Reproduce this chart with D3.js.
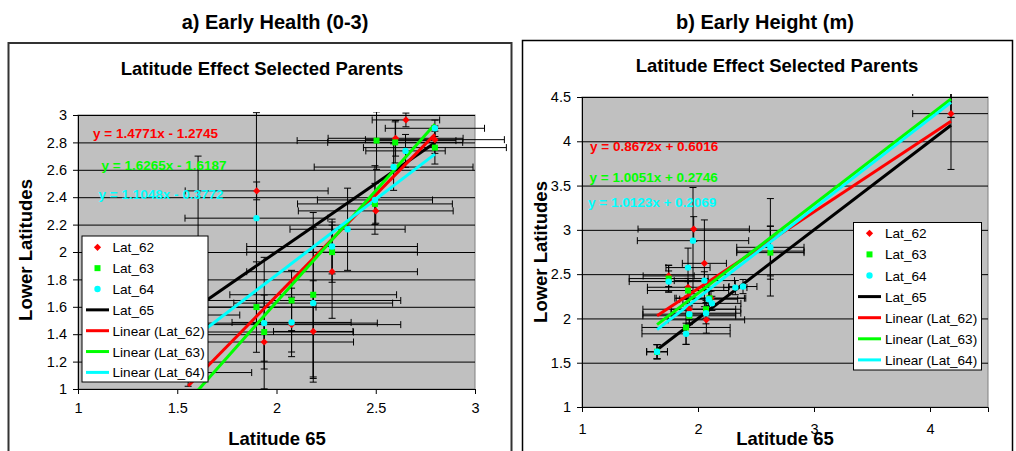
<!DOCTYPE html>
<html>
<head>
<meta charset="utf-8">
<script src="https://cdnjs.cloudflare.com/ajax/libs/d3/7.8.5/d3.min.js"></script>
<style>
body { margin: 0; background: #fff; }
svg { font-family: "Liberation Sans", Arial, sans-serif; }
</style>
</head>
<body>
<script>
// rows are [Lat_65 value, lower latitude value, x error, y error]

// a) Early Health (0-3)
var healthLat62 = [
    [1.555, 1.120, 0.32, 0.10],
    [1.900, 2.446, 0.36, 0.065],
    [1.938, 1.343, 0.45, 0.14],
    [2.076, 1.470, 0.55, 0.20],
    [2.185, 1.420, 0.20, 0.37],
    [2.280, 1.856, 0.43, 0.34],
    [2.500, 2.300, 0.39, 0.09],
    [2.600, 2.830, 0.34, 0.13],
    [2.652, 2.964, 0.17, 0.05],
    [2.798, 2.820, 0.35, 0.10]
];
var healthLat63 = [
    [1.555, 1.540, 0.26, 0.12],
    [1.899, 1.598, 0.30, 0.33],
    [1.938, 1.416, 0.45, 0.27],
    [2.076, 1.646, 0.55, 0.22],
    [2.185, 1.688, 0.42, 0.60],
    [2.280, 1.999, 0.43, 0.22],
    [2.496, 2.351, 0.39, 0.15],
    [2.504, 2.813, 0.40, 0.21],
    [2.598, 2.800, 0.34, 0.15],
    [2.798, 2.762, 0.36, 0.12]
];
var healthLat64 = [
    [1.605, 1.900, 0.04, 0.80],
    [1.899, 2.247, 0.36, 0.77],
    [1.938, 1.481, 0.57, 0.48],
    [2.076, 1.486, 0.30, 0.25],
    [2.185, 1.627, 0.40, 0.55],
    [2.280, 2.040, 0.43, 0.20],
    [2.358, 2.166, 0.29, 0.30],
    [2.496, 2.380, 0.29, 0.25],
    [2.590, 2.620, 0.40, 0.17],
    [2.650, 2.738, 0.20, 0.12],
    [2.798, 2.903, 0.25, 0.06]
];
var healthLat65 = [1.555, 1.605, 1.899, 1.938, 2.076, 2.185, 2.280, 2.358, 2.500, 2.600, 2.652, 2.798];
var healthTrend = [[1.4771, -1.2745], [1.6265, -1.6187], [1.1048, -0.3772]];
var healthXTicks = [1, 1.5, 2, 2.5, 3];
var healthYTicks = [1, 1.2, 1.4, 1.6, 1.8, 2, 2.2, 2.4, 2.6, 2.8, 3];

// b) Early Height (m)
var heightLat62 = [
    [1.647, 1.624, 0.09, 0.08],
    [1.747, 2.480, 0.22, 0.12],
    [1.914, 2.352, 0.35, 0.10],
    [1.925, 2.104, 0.40, 0.12],
    [1.963, 3.009, 0.48, 0.14],
    [2.055, 2.622, 0.19, 0.49],
    [2.072, 1.984, 0.33, 0.15],
    [2.112, 2.228, 0.30, 0.08],
    [2.624, 2.760, 0.29, 0.28],
    [4.181, 4.312, 0.33, 0.63]
];
var heightLat63 = [
    [1.647, 1.624, 0.09, 0.08],
    [1.747, 2.450, 0.34, 0.15],
    [1.897, 1.898, 0.38, 0.19],
    [1.914, 2.315, 0.35, 0.10],
    [1.925, 2.030, 0.40, 0.10],
    [2.069, 2.104, 0.30, 0.10],
    [2.100, 2.228, 0.30, 0.08],
    [2.624, 2.743, 0.29, 0.30],
    [4.181, 4.600, 0.33, 0.33]
];
var heightLat64 = [
    [1.647, 1.624, 0.09, 0.08],
    [1.747, 2.416, 0.34, 0.12],
    [1.897, 1.826, 0.38, 0.12],
    [1.914, 2.574, 0.19, 0.22],
    [1.925, 2.048, 0.40, 0.10],
    [1.957, 2.878, 0.48, 0.60],
    [2.055, 2.427, 0.26, 0.10],
    [2.069, 2.059, 0.30, 0.12],
    [2.092, 2.217, 0.25, 0.10],
    [2.120, 2.170, 0.25, 0.08],
    [2.322, 2.348, 0.10, 0.08],
    [2.388, 2.360, 0.12, 0.08],
    [2.624, 2.803, 0.29, 0.55],
    [4.181, 4.550, 0.33, 0.28]
];
var heightLat65 = [1.647, 1.747, 1.897, 1.914, 1.925, 1.957, 1.963, 2.055, 2.069, 2.092, 2.112, 2.120, 2.322, 2.388, 2.624, 4.181];
var heightTrend = [[0.8672, 0.6016], [1.0051, 0.2746], [1.0123, 0.2069]];
var heightXTicks = [1, 2, 3, 4];
var heightYTicks = [1, 1.5, 2, 2.5, 3, 3.5, 4, 4.5];

var seriesNames = ["Lat_62", "Lat_63", "Lat_64", "Lat_65"];
var seriesColors = ["#ff0000", "#00ff00", "#00ffff", "#000000"];
var markerShapes = ["diamond", "square", "circle"];

var svgDimension = { width: 1016, height: 451 };

var svg = d3.select("body").append("svg")
    .attr("width", svgDimension.width)
    .attr("height", svgDimension.height);

function markerPath(shape) {
    if (shape === "diamond") return d3.symbol(d3.symbolSquare, 26)();
    if (shape === "square") return d3.symbol(d3.symbolSquare, 36)();
    return d3.symbol(d3.symbolCircle, 32)();
}

function eqText(t) {
    return "y = " + t[0].toFixed(4) + "x " + (t[1] < 0 ? "- " : "+ ") + Math.abs(t[1]).toFixed(4);
}

function drawPanel(p) {
    var g = svg.append("g");

    // outer frame and panel heading
    g.append("rect")
        .attr("x", p.box.x).attr("y", p.box.y)
        .attr("width", p.box.w).attr("height", p.box.h)
        .attr("fill", "none")
        .attr("stroke", p.box.stroke)
        .attr("stroke-width", p.box.sw);

    g.append("text")
        .attr("x", p.heading.x).attr("y", 29)
        .attr("text-anchor", "middle")
        .attr("font-size", "20px").attr("font-weight", "bold")
        .text(p.heading.text);

    var x = d3.scaleLinear().domain(p.xDomain).range([p.plot.x, p.plot.x + p.plot.w]);
    var y = d3.scaleLinear().domain(p.yDomain).range([p.plot.y + p.plot.h, p.plot.y]);

    g.append("rect")
        .attr("x", p.plot.x).attr("y", p.plot.y)
        .attr("width", p.plot.w).attr("height", p.plot.h)
        .attr("fill", "#c0c0c0")
        .attr("stroke", "#808080");

    // horizontal gridlines
    var grid = g.append("g")
        .attr("transform", "translate(" + p.plot.x + ",0)")
        .call(d3.axisLeft(y).tickValues(p.yTicks).tickSize(-p.plot.w).tickFormat(""));
    grid.select(".domain").remove();
    grid.selectAll("line").attr("stroke", "#000").attr("stroke-width", 1);

    var clipPlot = p.id + "-plot";
    g.append("clipPath").attr("id", clipPlot)
        .append("rect")
        .attr("x", p.plot.x).attr("y", p.plot.y)
        .attr("width", p.plot.w).attr("height", p.plot.h);

    var clipErr = p.id + "-err";
    g.append("clipPath").attr("id", clipErr)
        .append("rect")
        .attr("x", p.plot.x).attr("y", p.plot.y - 3)
        .attr("width", p.errRight - p.plot.x).attr("height", p.plot.h + 3);

    // error bars
    var errG = g.append("g").attr("clip-path", "url(#" + clipErr + ")")
        .attr("stroke", "#000").attr("stroke-width", 1).attr("fill", "none");
    var cap = 3.5;
    p.series.forEach(function(s) {
        s.forEach(function(d) {
            var cx = x(d[0]), cy = y(d[1]);
            var x0 = x(d[0] - d[2]), x1 = x(d[0] + d[2]);
            var y0 = y(d[1] - d[3]), y1 = y(d[1] + d[3]);
            errG.append("path").attr("d",
                "M" + x0 + "," + cy + "H" + x1 +
                "M" + x0 + "," + (cy - cap) + "V" + (cy + cap) +
                "M" + x1 + "," + (cy - cap) + "V" + (cy + cap) +
                "M" + cx + "," + y0 + "V" + y1 +
                "M" + (cx - cap) + "," + y0 + "H" + (cx + cap) +
                "M" + (cx - cap) + "," + y1 + "H" + (cx + cap));
        });
    });

    var lineG = g.append("g").attr("clip-path", "url(#" + clipPlot + ")");

    // Lat_65 against itself
    var ext65 = d3.extent(p.lat65);
    lineG.append("path")
        .datum(ext65)
        .attr("d", d3.line().x(function(d) { return x(d); }).y(function(d) { return y(d); }))
        .attr("stroke", "#000").attr("stroke-width", 3).attr("fill", "none");

    // linear trendlines
    p.series.forEach(function(s, i) {
        var ext = d3.extent(s, function(d) { return d[0]; });
        var t = p.trend[i];
        lineG.append("path")
            .datum(ext)
            .attr("d", d3.line()
                .x(function(d) { return x(d); })
                .y(function(d) { return y(t[0] * d + t[1]); }))
            .attr("stroke", seriesColors[i]).attr("stroke-width", 3).attr("fill", "none");
    });

    // markers
    var markG = g.append("g").attr("clip-path", "url(#" + clipPlot + ")");
    p.series.forEach(function(s, i) {
        markG.selectAll(null).data(s).enter().append("path")
            .attr("d", markerPath(markerShapes[i]))
            .attr("transform", function(d) {
                return "translate(" + x(d[0]) + "," + y(d[1]) + ")" + (i === 0 ? " rotate(45)" : "");
            })
            .attr("fill", seriesColors[i]);
    });

    // axes
    var xAxis = g.append("g")
        .attr("transform", "translate(0," + (p.plot.y + p.plot.h) + ")")
        .call(d3.axisBottom(x).tickValues(p.xTicks).tickSize(5).tickPadding(p.xPad).tickFormat(function(d) { return d; }));
    var yAxis = g.append("g")
        .attr("transform", "translate(" + p.plot.x + ",0)")
        .call(d3.axisLeft(y).tickValues(p.yTicks).tickSize(5).tickPadding(6).tickFormat(function(d) { return d; }));
    [xAxis, yAxis].forEach(function(a) {
        a.select(".domain").attr("stroke", "#000");
        a.selectAll("line").attr("stroke", "#000");
        a.selectAll("text")
            .attr("font-family", "'Liberation Sans', Arial, sans-serif")
            .attr("font-size", "14.5px").attr("fill", "#000");
    });

    // titles
    g.append("text")
        .attr("x", p.title.x).attr("y", p.title.y)
        .attr("text-anchor", "middle")
        .attr("font-size", "18.5px").attr("font-weight", "bold")
        .text("Latitude Effect Selected Parents");
    g.append("text")
        .attr("x", p.xTitle.x).attr("y", p.xTitle.y)
        .attr("text-anchor", "middle")
        .attr("font-size", "18.5px").attr("font-weight", "bold")
        .text("Latitude 65");
    g.append("text")
        .attr("transform", "translate(" + p.yTitle.x + "," + p.yTitle.y + ") rotate(-90)")
        .attr("text-anchor", "middle")
        .attr("font-size", "18.5px").attr("font-weight", "bold")
        .text("Lower Latitudes");

    // trendline equations
    p.trend.forEach(function(t, i) {
        g.append("text")
            .attr("x", p.eq[i][0]).attr("y", p.eq[i][1])
            .attr("font-size", "13.5px").attr("font-weight", "bold")
            .attr("fill", seriesColors[i])
            .text(eqText(t));
    });

    // legend
    var lg = g.append("g");
    lg.append("rect")
        .attr("x", p.legend.x).attr("y", p.legend.y)
        .attr("width", p.legend.w).attr("height", p.legend.h)
        .attr("fill", "#fff").attr("stroke", "#000");
    var entries = [];
    [0, 1, 2].forEach(function(i) { entries.push({ label: seriesNames[i], color: seriesColors[i], marker: markerShapes[i] }); });
    entries.push({ label: seriesNames[3], color: seriesColors[3] });
    [0, 1, 2].forEach(function(i) { entries.push({ label: "Linear (" + seriesNames[i] + ")", color: seriesColors[i] }); });
    entries.forEach(function(e, k) {
        var ry = p.legend.row0 + k * p.legend.step;
        if (e.marker) {
            lg.append("path")
                .attr("d", markerPath(e.marker))
                .attr("transform", "translate(" + p.legend.sym + "," + ry + ")" + (e.marker === "diamond" ? " rotate(45)" : ""))
                .attr("fill", e.color);
        } else {
            lg.append("line")
                .attr("x1", p.legend.sym - 11.5).attr("x2", p.legend.sym + 11.5)
                .attr("y1", ry).attr("y2", ry)
                .attr("stroke", e.color).attr("stroke-width", 3);
        }
        lg.append("text")
            .attr("x", p.legend.text).attr("y", ry + 5)
            .attr("font-size", "13.6px")
            .text(e.label);
    });
}

drawPanel({
    id: "health",
    box: { x: 8.5, y: 43, w: 503, h: 420, stroke: "#333", sw: 2 },
    heading: { x: 275, text: "a) Early Health (0-3)" },
    plot: { x: 78, y: 115, w: 397, h: 274 },
    errRight: 512,
    xDomain: [1, 3], yDomain: [1, 3],
    xTicks: healthXTicks, yTicks: healthYTicks,
    xPad: 9,
    series: [healthLat62, healthLat63, healthLat64],
    lat65: healthLat65,
    trend: healthTrend,
    title: { x: 262, y: 75 },
    xTitle: { x: 277, y: 445 },
    yTitle: { x: 32, y: 250 },
    eq: [[93, 138], [101.5, 170], [98.5, 199]],
    legend: { x: 82, y: 236, w: 126, h: 146, row0: 247.3, step: 20.85, sym: 97.5, text: 112.5 }
});

drawPanel({
    id: "height",
    box: { x: 522.5, y: 40.5, w: 490, h: 420, stroke: "#000", sw: 1.5 },
    heading: { x: 765, text: "b) Early Height (m)" },
    plot: { x: 582, y: 97, w: 406, h: 310 },
    errRight: 988,
    xDomain: [1, 4.5], yDomain: [1, 4.5],
    xTicks: heightXTicks, yTicks: heightYTicks,
    xPad: 12,
    series: [heightLat62, heightLat63, heightLat64],
    lat65: heightLat65,
    trend: heightTrend,
    title: { x: 777, y: 72 },
    xTitle: { x: 785, y: 445 },
    yTitle: { x: 547, y: 252 },
    eq: [[590, 151], [589.5, 181.5], [588, 206.5]],
    legend: { x: 853.5, y: 222.5, w: 128, h: 147.5, row0: 233.3, step: 21.1, sym: 869.5, text: 885 }
});
</script>
</body>
</html>
